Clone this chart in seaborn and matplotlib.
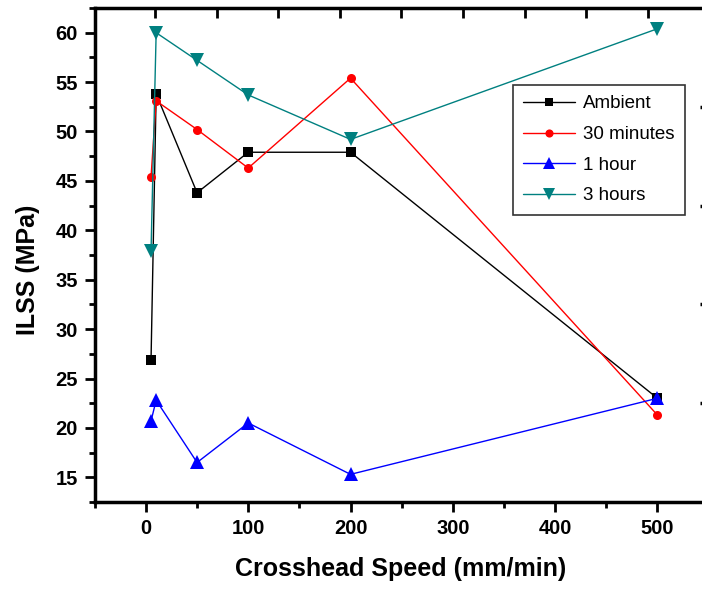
import numpy as np
import pandas as pd
import seaborn as sns
import matplotlib.pyplot as plt
from matplotlib.ticker import MultipleLocator

# crosshead speed (mm/min) and ILSS (MPa)
speed = [5, 10, 50, 100, 200, 500]
ambient = [26.9, 53.8, 43.8, 47.9, 47.9, 23.0]
min30 = [45.4, 53.1, 50.2, 46.3, 55.4, 21.3]
hour1 = [20.7, 22.8, 16.5, 20.5, 15.3, 23.0]
hour3 = [37.9, 60.0, 57.2, 53.7, 49.2, 60.4]
series = ["Ambient", "30 minutes", "1 hour", "3 hours"]

df = pd.concat([
    pd.DataFrame({"speed": speed, "ilss": vals, "series": name})
    for name, vals in zip(series, [ambient, min30, hour1, hour3])
])

sns.set_style("ticks")
plt.rcParams['font.family'] = ['Liberation Sans', 'DejaVu Sans']
plt.rcParams.update({'text.color': 'black', 'axes.labelcolor': 'black',
                     'xtick.color': 'black', 'ytick.color': 'black',
                     'axes.edgecolor': 'black'})

colors = {"Ambient": "black", "30 minutes": "red", "1 hour": "blue", "3 hours": "#008080"}
marks = {"Ambient": "s", "30 minutes": "o", "1 hour": "^", "3 hours": "v"}
msize = {"s": 6.5, "o": 6.5, "^": 10, "v": 10}

fig = plt.figure(figsize=(7.02, 5.92), dpi=100)
ax = fig.add_axes([0.135, 0.152, 0.87, 0.8345])
sns.lineplot(data=df, x="speed", y="ilss", hue="series", style="series",
             palette=colors, markers=marks, dashes=False, sort=False,
             linewidth=1.0, markeredgewidth=0, ax=ax)
for ln in ax.lines:
    m = ln.get_marker()
    if m in msize:
        ln.set_markersize(msize[m])

ax.set_xlim(-50, 547)
ax.set_ylim(12.5, 62.5)
ax.xaxis.set_major_locator(MultipleLocator(100))
ax.xaxis.set_minor_locator(MultipleLocator(50))
ax.yaxis.set_major_locator(MultipleLocator(5))
ax.yaxis.set_minor_locator(MultipleLocator(2.5))
ax.tick_params(which='major', direction='out', length=7, width=2, pad=5)
ax.tick_params(which='minor', direction='out', length=4, width=2)
for lab in ax.get_xticklabels() + ax.get_yticklabels():
    lab.set_fontweight('bold')
    lab.set_fontsize(14.5)
for sp in ax.spines.values():
    sp.set_visible(True)
    sp.set_linewidth(2.5)

# top ticks pointing in
top = ax.twiny()
top.set_xlim(ax.get_xlim())
top.set_xticks([9 + 60.2 * k for k in range(9)])
top.tick_params(axis='x', direction='in', length=7, width=2, labeltop=False)
# right ticks pointing in (only their tips fall inside the picture)
right = ax.twinx()
right.set_ylim(ax.get_ylim())
right.set_yticks([22.5, 32.5, 42.5, 52.5])
right.tick_params(axis='y', direction='in', length=4.5, width=2.5, labelright=False)
for a in (top, right):
    for sp in a.spines.values():
        sp.set_visible(False)

ax.set_xlabel("Crosshead Speed (mm/min)", fontsize=18, fontweight='bold', labelpad=14)
ax.set_ylabel("ILSS (MPa)", fontsize=18, fontweight='bold')
ax.yaxis.set_label_coords(-0.09, 0.47)

handles, labels = ax.get_legend_handles_labels()
leg = ax.legend(handles, labels, loc='upper left', bbox_to_anchor=(0.684, 0.844),
                borderaxespad=0, frameon=True, fancybox=False, edgecolor='black',
                fontsize=13.5, handlelength=2.8, handletextpad=0.4,
                labelspacing=0.72, borderpad=0.55)
leg.get_frame().set_linewidth(1.2)
for h in leg.legend_handles:
    m = h.get_marker()
    if m in msize:
        h.set_markersize(msize[m] * 0.9)

fig.savefig("out.png", dpi=100)
